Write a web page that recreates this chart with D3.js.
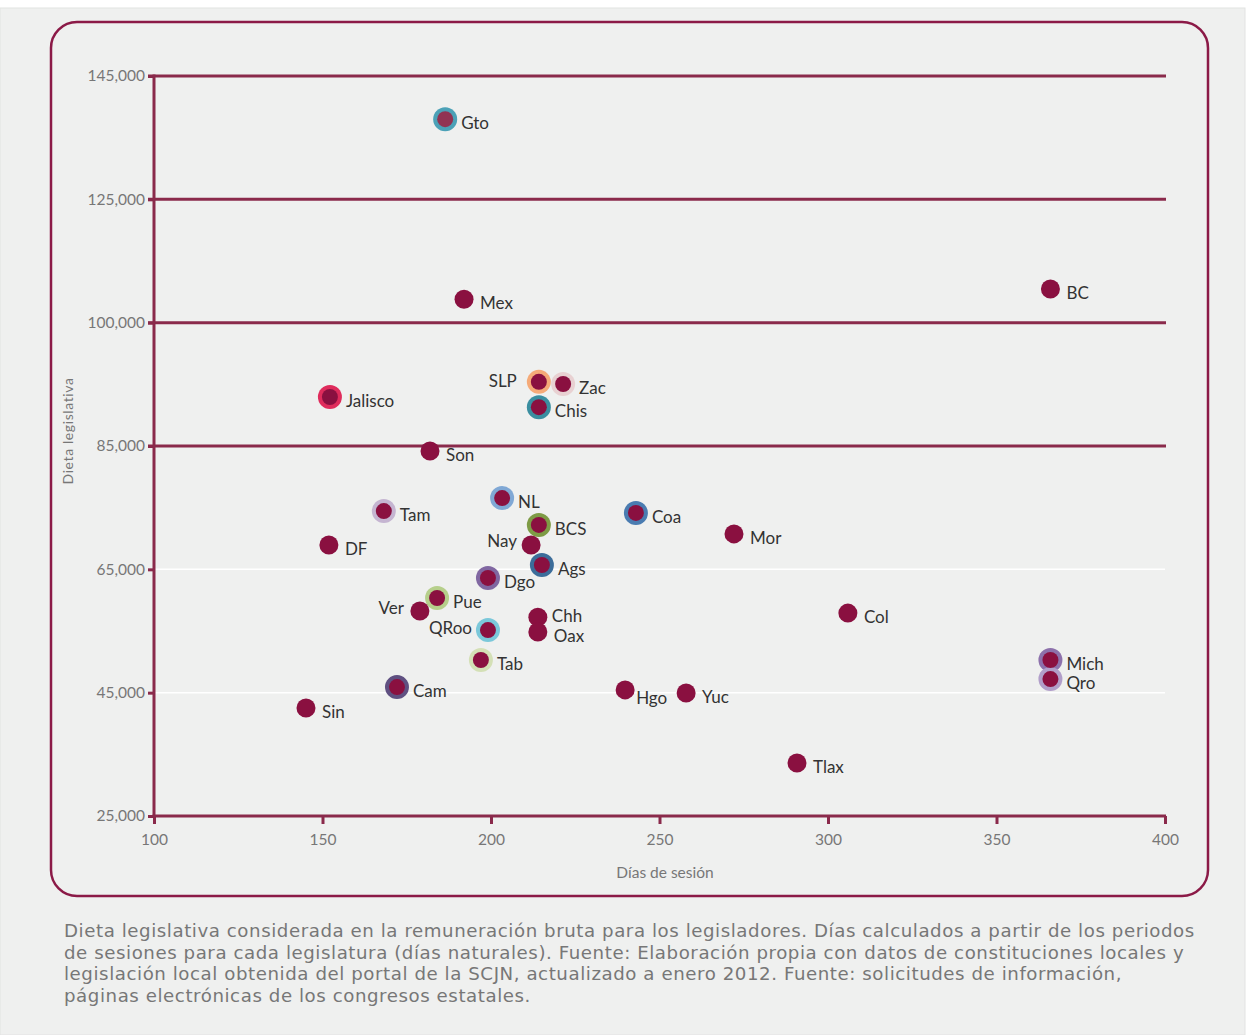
<!DOCTYPE html>
<html><head><meta charset="utf-8">
<script src="https://cdn.jsdelivr.net/npm/d3@7"></script>
<style>
html,body{margin:0;padding:0;background:#ffffff;}
text{font-family:Lato,"Noto Sans",sans-serif;}
text.cap{font-family:"DejaVu Sans",sans-serif;}
</style></head>
<body>
<svg id="chart" width="1250" height="1035"></svg>
<script>
const states = ["Gto","Mex","BC","SLP","Zac","Chis","Jalisco","Son","NL","Tam","Coa","BCS","Mor","DF","Nay","Ags","Dgo","Pue","Ver","Col","Chh","Oax","QRoo","Tab","Mich","Qro","Cam","Hgo","Yuc","Sin","Tlax"];
const dias =   [186.4,192,366,214.2,221.4,214.2,152.2,181.9,203.3,168.2,243,214.2,272.1,151.9,211.9,215.1,199.1,184,178.9,305.9,213.9,213.9,199.1,197,366,366,172.1,239.8,257.9,145.1,290.8];
const dieta =  [138000,108800,110450,95400,95050,91300,92950,84200,76550,74450,74150,72200,70750,68950,68950,65700,63600,60350,58250,57900,57250,54850,55150,50300,50300,47200,45900,45450,44950,42500,33600];
const ringColors = {Gto:"#4ba1b7",SLP:"#f5aa78",Zac:"#e8d1d2",Chis:"#3a8ea0",Jalisco:"#df2c5c",NL:"#80a8d5",Tam:"#c5b5d1",Coa:"#4a7cb1",BCS:"#7e9b45",Ags:"#3c6d9a",Dgo:"#8067a1",Pue:"#b6cf8b",QRoo:"#7bc8da",Tab:"#d4e0b6",Mich:"#8d71ab",Qro:"#b19ec9",Cam:"#5f5081"};
const labelOffsets = {SLP:[-22,5,"end"],Nay:[-14,2,"end"],Ver:[-16,3,"end"],QRoo:[-16,4,"end"],Chh:[14,5,"start"],Hgo:[11,14,"start"]};
const yTickValues = [25000,45000,65000,85000,105000,125000,145000];
const yTickLabels = ["25,000","45,000","65,000","85,000","100,000","125,000","145,000"];
const xTickValues = [100,150,200,250,300,350,400];
const darkGrid = [85000,105000,125000,145000];
const lightGrid = [45000,65000];
const captionLines = [
 "Dieta legislativa considerada en la remuneración bruta para los legisladores. Días calculados a partir de los periodos",
 "de sesiones para cada legislatura (días naturales). Fuente: Elaboración propia con datos de constituciones locales y",
 "legislación local obtenida del portal de la SCJN, actualizado a enero 2012. Fuente: solicitudes de información,",
 "páginas electrónicas de los congresos estatales."
];

const svg = d3.select("#chart");
const maroon = "#8a2a4b";
const dot = "#8a1040";

svg.append("rect").attr("x",0).attr("y",8).attr("width",1245).attr("height",1027).attr("fill","#eff0ef").attr("stroke","#e2e3e2");
svg.append("rect").attr("x",51).attr("y",22).attr("width",1157).attr("height",874).attr("rx",26).attr("ry",26)
  .attr("fill","none").attr("stroke","#8b1a47").attr("stroke-width",2.5);

const x = d3.scaleLinear().domain([100,400]).range([154,1165]);
const y = d3.scaleLinear().domain([25000,145000]).range([816,76]);

svg.selectAll(".lg").data(lightGrid).join("line")
  .attr("x1",154).attr("x2",1165).attr("y1",d=>y(d)).attr("y2",d=>y(d))
  .attr("stroke","#ffffff").attr("stroke-width",1.5);
svg.selectAll(".dg").data(darkGrid).join("line")
  .attr("x1",148).attr("x2",1166).attr("y1",d=>y(d)).attr("y2",d=>y(d))
  .attr("stroke",maroon).attr("stroke-width",3);

const yAxis = d3.axisLeft(y).tickValues(yTickValues).tickFormat((d,i)=>yTickLabels[i]).tickSize(6).tickPadding(3);
const gy = svg.append("g").attr("transform","translate(154,0)").call(yAxis);
gy.select(".domain").remove();
gy.selectAll(".tick line").attr("stroke",maroon).attr("stroke-width",3);
gy.selectAll(".tick text").attr("fill","#777").attr("font-size",15.5);
svg.append("line").attr("x1",154).attr("x2",154).attr("y1",y(145000)-1.5).attr("y2",y(25000)+1.5).attr("stroke",maroon).attr("stroke-width",3);

const xAxis = d3.axisBottom(x).tickValues(xTickValues).tickSize(8).tickPadding(10);
const gx = svg.append("g").attr("transform","translate(0,816)").call(xAxis);
gx.select(".domain").remove();
gx.selectAll(".tick line").attr("stroke",maroon).attr("stroke-width",3);
gx.selectAll(".tick text").attr("fill","#777").attr("font-size",15.5);
svg.append("line").attr("x1",152.5).attr("x2",1166).attr("y1",816).attr("y2",816).attr("stroke",maroon).attr("stroke-width",3);

svg.append("text").attr("transform","translate(73,431) rotate(-90)").attr("text-anchor","middle")
  .attr("fill","#777").attr("font-size",14).attr("letter-spacing",0.6).text("Dieta legislativa");
svg.append("text").attr("x",665).attr("y",878).attr("text-anchor","middle")
  .attr("fill","#777").attr("font-size",15.5).text("Días de sesión");

const data = states.map((s,i)=>({s, x:dias[i], y:dieta[i]}));
const g = svg.append("g");
g.selectAll(".ring").data(data.filter(d=>ringColors[d.s])).join("circle")
  .attr("cx",d=>x(d.x)).attr("cy",d=>y(d.y)).attr("r",12).attr("fill",d=>ringColors[d.s]);
g.selectAll(".dot").data(data).join("circle")
  .attr("cx",d=>x(d.x)).attr("cy",d=>y(d.y)).attr("r",d=>ringColors[d.s]?8:9.5)
  .attr("fill",d=>d.s==="Gto"?"#913353":dot);
g.selectAll(".lab").data(data).join("text")
  .attr("x",d=>x(d.x)+(labelOffsets[d.s]?labelOffsets[d.s][0]:16))
  .attr("y",d=>y(d.y)+(labelOffsets[d.s]?labelOffsets[d.s][1]:10))
  .attr("text-anchor",d=>labelOffsets[d.s]?labelOffsets[d.s][2]:"start")
  .attr("fill","#333").attr("font-size",17).text(d=>d.s);

// caption: DejaVu Sans (compact line box), sized so the first line fills the reference width
const cap = svg.append("g");
const t0 = cap.append("text").attr("class","cap").attr("font-size",18).text(captionLines[0]);
const w0 = t0.node().getComputedTextLength();
t0.remove();
const capSize = Math.min(18.2, 18 * 1131 / w0);
const w1 = w0 * capSize / 18;
const ls = Math.max(0, (1131 - w1) / (captionLines[0].length - 1));
cap.selectAll("text").data(captionLines).join("text").attr("class","cap")
  .attr("x",64).attr("y",(d,i)=>937+i*21.5)
  .attr("fill","#777").attr("font-size",capSize).attr("letter-spacing",ls).text(d=>d);
</script>
</body></html>
